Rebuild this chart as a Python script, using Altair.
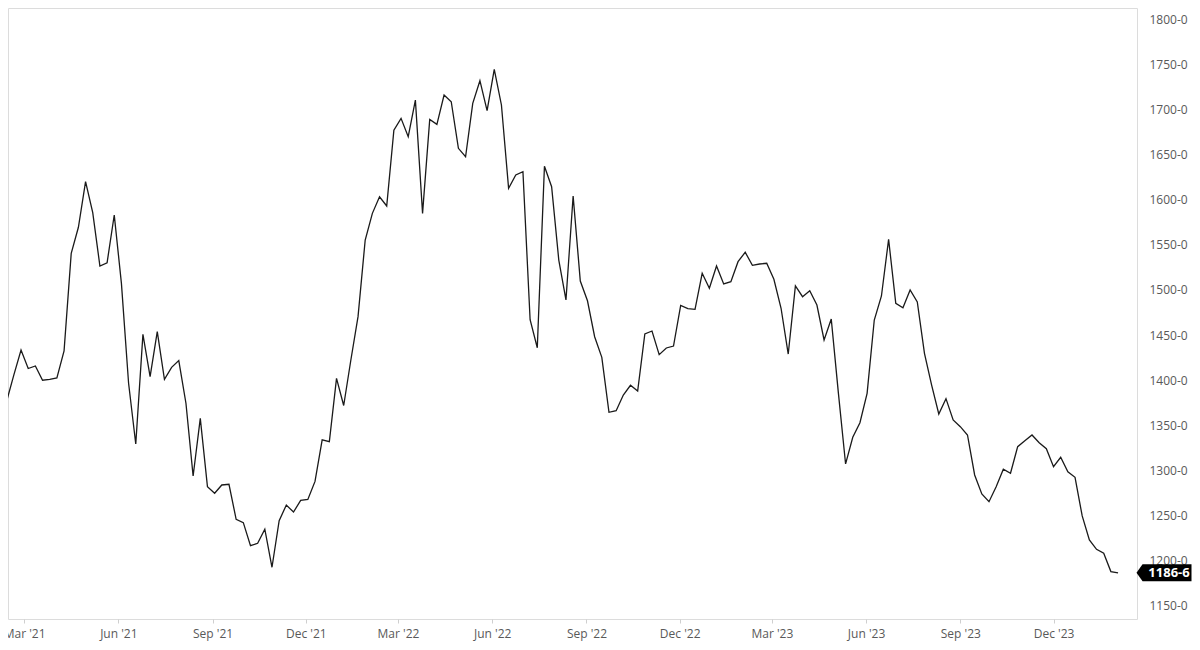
import altair as alt
import pandas as pd

# Weekly settlement prices (cents/bu, decimal), first week ending 2021-02-12
START_DATE = "2021-02-12"
PRICES = [
    1377, 1406, 1433.5, 1413, 1415.8, 1400, 1401, 1402.5, 1432.4, 1540.6,
    1569.4, 1619.9, 1585.6, 1526.5, 1530, 1583, 1507.3, 1396.6, 1329.4, 1450.8,
    1404, 1453.8, 1401, 1414.3, 1421.7, 1374.5, 1294, 1357.8, 1282, 1274.8,
    1284, 1284.8, 1246, 1242.3, 1216.8, 1219.4, 1235, 1192.9, 1244.5, 1261.8,
    1254, 1267, 1268, 1288, 1334, 1332, 1402, 1372, 1422.4, 1470.4,
    1555.3, 1584.8, 1603.2, 1593, 1677, 1690, 1669.7, 1710.3, 1584.8, 1688.9,
    1683.4, 1715.8, 1708.4, 1656.8, 1647.5, 1706.6, 1731.7, 1698.5, 1744.3, 1704.8,
    1612.5, 1627.3, 1631, 1467, 1436, 1637, 1614.3, 1533.1, 1488.9, 1604,
    1509.9, 1488, 1448.2, 1425.4, 1364.5, 1366.3, 1383.6, 1394.4, 1388.1, 1451.2,
    1454.5, 1428.3, 1435.7, 1437.9, 1482.9, 1479.2, 1478.5, 1518.4, 1501.8, 1526.5,
    1506.6, 1509.1, 1531.3, 1541.7, 1527.3, 1528.7, 1529.5, 1511.8, 1479.7, 1429,
    1504.4, 1492.5, 1499.1, 1483.3, 1444.6, 1467.8, 1385.5, 1307.3, 1336.8, 1353,
    1385.5, 1466.7, 1493.3, 1556, 1485.2, 1480.3, 1499.9, 1486.6, 1429.8, 1394.7,
    1362.6, 1379.6, 1356, 1348.6, 1339.4, 1295.1, 1274, 1265.5, 1282, 1301.4,
    1297, 1326.4, 1333.1, 1339.4, 1330.8, 1324.2, 1304.3, 1314.7, 1298.7, 1292.5,
    1249.7, 1223.1, 1212.8, 1208.4, 1188.1, 1186.75,
]
Y_TICKS = [1150, 1200, 1250, 1300, 1350, 1400, 1450, 1500, 1550, 1600, 1650, 1700, 1750, 1800]
X_TICKS = [(2021, 3), (2021, 6), (2021, 9), (2021, 12),
           (2022, 3), (2022, 6), (2022, 9), (2022, 12),
           (2023, 3), (2023, 6), (2023, 9), (2023, 12)]

dates = pd.date_range(START_DATE, periods=len(PRICES), freq="7D")
df = pd.DataFrame({"date": dates, "price": PRICES})

last_val = PRICES[-1]
last_label = f"{int(last_val)}-{round((last_val - int(last_val)) * 8)}"
last_df = pd.DataFrame({"date": [dates[-1]], "price": [last_val], "label": [last_label]})

W, H = 1129, 611
FONT = "Open Sans"
LABEL_COLOR = "#595959"

x_scale = alt.Scale(domain=[alt.DateTime(year=2021, month=2, date=13, hours=6, minutes=30),
                            alt.DateTime(year=2024, month=2, date=20, hours=12)])
y_scale = alt.Scale(domain=[1135.6, 1812.2], nice=False, zero=False)

x_axis = alt.Axis(
    values=[alt.DateTime(year=y, month=m, date=1) for (y, m) in X_TICKS],
    format="%b '%y", title=None, grid=False, domain=False,
    ticks=True, tickSize=4, tickColor="#cfcfcf", labelPadding=5,
    labelFont=FONT, labelFontSize=12, labelColor=LABEL_COLOR, labelFlush=False,
)
y_axis = alt.Axis(
    orient="right", values=Y_TICKS, labelExpr="datum.value + '-0'",
    title=None, grid=False, domain=False, ticks=False, tickSize=0, labelPadding=12,
    labelFont=FONT, labelFontSize=12, labelColor=LABEL_COLOR,
)

line = alt.Chart(df).mark_line(color="#1a1a1a", strokeWidth=1.3, clip=True).encode(
    x=alt.X("date:T", scale=x_scale, axis=x_axis),
    y=alt.Y("price:Q", scale=y_scale, axis=y_axis),
)

TAG_PATH = "M -1 0 L -0.78 -0.31 L 1 -0.31 L 1 0.31 L -0.78 0.31 Z"
tag = alt.Chart(last_df).mark_point(
    shape=TAG_PATH, size=3025, filled=True, color="#000000", opacity=1, strokeWidth=0
).encode(
    x=alt.value(W + 27),
    y=alt.Y("price:Q", scale=y_scale),
)
tag_text = alt.Chart(last_df).mark_text(
    color="white", font=FONT, fontSize=13, fontWeight="bold", align="center", baseline="middle"
).encode(
    x=alt.value(W + 32),
    y=alt.Y("price:Q", scale=y_scale),
    text="label:N",
)

chart = alt.layer(line, tag, tag_text).properties(
    width=W, height=H,
    autosize=alt.AutoSizeParams(type="none"),
    padding={"left": 0, "top": 0, "right": 55, "bottom": 23},
    background="white",
).configure_view(stroke="#dcdcdc", strokeWidth=1)

chart.save("out.html", embed_options={"renderer": "svg", "actions": False})
